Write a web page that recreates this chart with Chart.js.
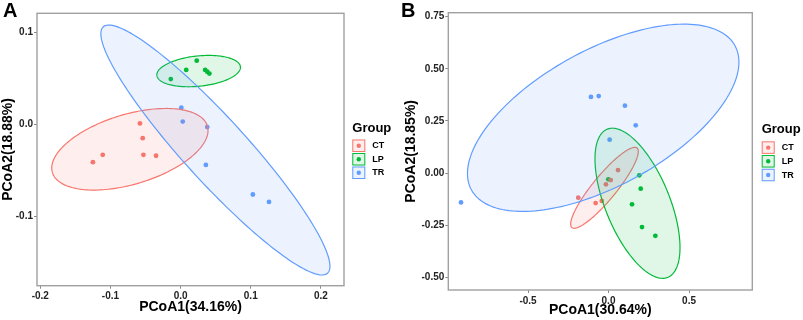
<!DOCTYPE html>
<html lang="en">
<head>
<meta charset="UTF-8">
<title>PCoA plots</title>
<script src="https://cdn.jsdelivr.net/npm/chart.js"></script>
<style>
  body { margin: 0; background: #fff; }
  canvas { position: absolute; top: 0; }
  #chartA { left: 0; }
  #chartB { left: 400px; }
</style>
</head>
<body>
<canvas id="chartA" width="400" height="320"></canvas>
<canvas id="chartB" width="403" height="320"></canvas>
<script>
const groups = ['CT', 'LP', 'TR'];
const colors = ['#F8766D', '#00BA38', '#619CFF'];
const fills = ['rgba(248,118,109,0.12)', 'rgba(0,186,56,0.12)', 'rgba(97,156,255,0.12)'];

// panel A points
const aCTx = [-0.058, -0.054, -0.111, -0.125, -0.053, -0.035];
const aCTy = [0.001, -0.015, -0.033, -0.041, -0.033, -0.034];
const aLPx = [-0.014, 0.008, 0.023, 0.035, 0.038, 0.041];
const aLPy = [0.049, 0.059, 0.069, 0.059, 0.057, 0.055];
const aTRx = [0.001, 0.003, 0.038, 0.036, 0.103, 0.126];
const aTRy = [0.018, 0.003, -0.003, -0.044, -0.076, -0.084];

// panel A ellipses (CT, LP, TR): centre, half extents, tilt factor
const aEllCx = [-0.0723, 0.0257, 0.0496];
const aEllCy = [-0.0270, 0.0577, -0.0278];
const aEllRx = [0.1114, 0.0596, 0.1633];
const aEllRy = [0.0442, 0.0170, 0.1354];
const aEllRho = [0.46, 0.24, -0.93];

// panel B points
const bCTx = [-0.188, -0.080, -0.042, -0.016, 0.014, 0.059];
const bCTy = [-0.118, -0.144, -0.134, -0.054, -0.034, 0.014];
const bLPx = [-0.001, 0.191, 0.200, 0.146, 0.208, 0.291];
const bLPy = [-0.030, -0.011, -0.075, -0.150, -0.259, -0.301];
const bTRx = [-0.916, -0.109, -0.061, 0.102, 0.169, 0.007];
const bTRy = [-0.141, 0.365, 0.369, 0.323, 0.229, 0.160];

const bEllCx = [-0.025, 0.180, -0.033];
const bEllCy = [-0.071, -0.145, 0.265];
const bEllRx = [0.210, 0.264, 0.843];
const bEllRy = [0.194, 0.360, 0.449];
const bEllRho = [0.895, -0.59, 0.595];

// ticks
const aXTicks = [-0.2, -0.1, 0, 0.1, 0.2];
const aXLabels = ['-0.2', '-0.1', '0.0', '0.1', '0.2'];
const aYTicks = [-0.1, 0, 0.1];
const aYLabels = ['-0.1', '0.0', '0.1'];
const bXTicks = [-0.5, 0, 0.5];
const bXLabels = ['-0.5', '0.0', '0.5'];
const bYTicks = [-0.5, -0.25, 0, 0.25, 0.5, 0.75];
const bYLabels = ['-0.50', '-0.25', '0.00', '0.25', '0.50', '0.75'];

const FONT = "'Liberation Sans', Arial, sans-serif";
Chart.defaults.font.family = FONT;

function pts(xs, ys) {
  return xs.map((v, i) => ({x: v, y: ys[i]}));
}

const decor = {
  id: 'decor',
  afterDatasetsDraw(chart, args, o) {
    const {ctx, chartArea: a, scales: {x, y}} = chart;
    ctx.save();
    ctx.beginPath();
    ctx.rect(a.left, a.top, a.right - a.left, a.bottom - a.top);
    ctx.clip();
    o.cx.forEach((cx, i) => {
      const cy = o.cy[i], rx = o.rx[i], ry = o.ry[i], r = o.rho[i];
      const s = Math.sqrt(1 - r * r);
      ctx.beginPath();
      for (let k = 0; k <= 180; k++) {
        const t = k / 180 * 2 * Math.PI;
        const px = x.getPixelForValue(cx + rx * Math.cos(t));
        const py = y.getPixelForValue(cy + ry * (r * Math.cos(t) + s * Math.sin(t)));
        if (k) ctx.lineTo(px, py); else ctx.moveTo(px, py);
      }
      ctx.closePath();
      ctx.fillStyle = fills[i];
      ctx.fill();
      ctx.strokeStyle = colors[i];
      ctx.lineWidth = 1.2;
      ctx.stroke();
    });
    ctx.restore();
  },
  afterDraw(chart, args, o) {
    const {ctx, chartArea: a} = chart;
    ctx.save();
    // panel frame
    ctx.strokeStyle = '#a0a0a0';
    ctx.lineWidth = 1.4;
    ctx.strokeRect(a.left, a.top, a.right - a.left, a.bottom - a.top);
    // panel letter
    ctx.fillStyle = '#000';
    ctx.font = 'bold 20px ' + FONT;
    ctx.textBaseline = 'alphabetic';
    ctx.fillText(o.letter, o.letterX, 17);
    // legend
    const lx = a.right + o.legendDx;
    const mid = (a.top + a.bottom) / 2;
    ctx.font = 'bold 13px ' + FONT;
    ctx.fillText('Group', lx, mid - 18);
    ctx.font = 'bold 9px ' + FONT;
    ctx.textBaseline = 'middle';
    groups.forEach((g, i) => {
      const top = mid - 10 + i * o.step;
      ctx.fillStyle = fills[i];
      ctx.fillRect(lx, top, 13, 12.5);
      ctx.strokeStyle = colors[i];
      ctx.lineWidth = 1;
      ctx.strokeRect(lx + 0.5, top + 0.5, 12, 11.5);
      ctx.fillStyle = colors[i];
      ctx.beginPath();
      ctx.arc(lx + 6.5, top + 6.25, 2.2, 0, 2 * Math.PI);
      ctx.fill();
      ctx.fillStyle = '#000';
      ctx.fillText(g, lx + 20, top + 6.5);
    });
    ctx.restore();
  }
};

function axis(min, max, ticks, labels, title, size, titlePad, horizontal) {
  return {
    type: 'linear',
    min: min,
    max: max,
    afterBuildTicks: s => { s.ticks = ticks.map(v => ({value: v})); },
    afterFit: s => { if (horizontal) s.height = size; else s.width = size; },
    grid: {display: true, drawOnChartArea: false, drawTicks: true, tickLength: 3, color: '#888'},
    border: {display: false},
    ticks: {
      autoSkip: false, maxRotation: 0, padding: horizontal ? 2 : 1,
      color: '#222', font: {size: 10, weight: 'bold'},
      callback: (v, i) => labels[i]
    },
    title: {display: true, text: title, color: '#000', font: {size: 14, weight: 'bold'}, padding: titlePad}
  };
}

function makeChart(id, data, ell, sc, extra) {
  return new Chart(document.getElementById(id), {
    type: 'scatter',
    data: {
      datasets: groups.map((g, i) => ({
        label: g,
        data: pts(data[i][0], data[i][1]),
        backgroundColor: colors[i],
        borderWidth: 0,
        pointRadius: 2.4,
        pointHoverRadius: 2.4
      }))
    },
    options: {
      responsive: false,
      animation: false,
      layout: {padding: extra.padding},
      plugins: {
        legend: {display: false},
        tooltip: {enabled: false},
        decor: Object.assign({}, ell, extra.decor)
      },
      scales: {x: sc.x, y: sc.y}
    },
    plugins: [decor]
  });
}

makeChart('chartA',
  [[aCTx, aCTy], [aLPx, aLPy], [aTRx, aTRy]],
  {cx: aEllCx, cy: aEllCy, rx: aEllRx, ry: aEllRy, rho: aEllRho},
  {
    x: axis(-0.2047, 0.2329, aXTicks, aXLabels, 'PCoA1(34.16%)', 34.3, {top: 0, bottom: 4.6}, true),
    y: axis(-0.1748, 0.1203, aYTicks, aYLabels, 'PCoA2(18.88%)', 37, {top: 0, bottom: 0}, false)
  },
  {padding: {left: 0, right: 56, top: 13.3, bottom: 0},
   decor: {letter: 'A', letterX: 3, legendDx: 8.3, step: 13.5}}
);

makeChart('chartB',
  [[bCTx, bCTy], [bLPx, bLPy], [bTRx, bTRy]],
  {cx: bEllCx, cy: bEllCy, rx: bEllRx, ry: bEllRy, rho: bEllRho},
  {
    x: axis(-0.995, 0.893, bXTicks, bXLabels, 'PCoA1(30.64%)', 30, {top: 0, bottom: 1.6}, true),
    y: axis(-0.561, 0.769, bYTicks, bYLabels, 'PCoA2(18.85%)', 48.3, {top: 2.3, bottom: 0}, false)
  },
  {padding: {left: 0, right: 50.7, top: 12.7, bottom: 0},
   decor: {letter: 'B', letterX: 1, legendDx: 9.4, step: 13.7}}
);
</script>
</body>
</html>
